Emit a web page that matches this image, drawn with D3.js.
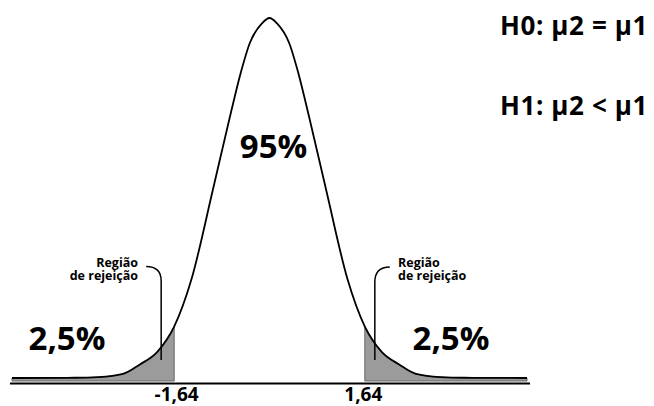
<!DOCTYPE html>
<html>
<head>
<meta charset="utf-8">
<script src="https://cdn.jsdelivr.net/npm/d3@7"></script>
<style>
  html, body { margin: 0; padding: 0; background: #ffffff; }
  svg { display: block; }
  text { font-family: "Open Sans", "Noto Sans", sans-serif; font-weight: 700; fill: #000; }
</style>
</head>
<body>
<svg id="chart" width="654" height="406"></svg>
<script>
// ---- data ----
const curveX       = [-4.43, -3.36, -2.94, -2.52, -2.23, -1.93, -1.64, -1.34, -0.98, -0.69, -0.50, -0.34, -0.13, 0,
                       0.13, 0.34, 0.50, 0.69, 0.98, 1.34, 1.64, 1.93, 2.23, 2.52, 2.94, 3.36, 4.43];
const curveDensity = [0.0000, 0.0003, 0.0010, 0.0045, 0.015, 0.029, 0.057, 0.110, 0.207, 0.287, 0.337, 0.371, 0.393, 0.399,
                      0.393, 0.371, 0.337, 0.287, 0.207, 0.110, 0.057, 0.029, 0.015, 0.0045, 0.0010, 0.0003, 0.0000];
const criticalValues = [-1.64, 1.64];
const tickLabels     = ["-1,64", "1,64"];
const tailLabels     = ["2,5%", "2,5%"];
const centerLabel    = "95%";
const regionLabel    = ["Região", "de rejeição"];
const hypotheses     = ["H0: μ2 = μ1", "H1: μ2 < μ1"];

const points = curveX.map((v, i) => ({ x: v, d: curveDensity[i] }));

const svg = d3.select("#chart");
const x = d3.scaleLinear().domain([d3.min(curveX), d3.max(curveX)]).range([12, 527]);
const y = d3.scaleLinear().domain([0, d3.max(curveDensity)]).range([378, 18]);

// shaded rejection tails
const area = d3.area()
  .x(p => x(p.x))
  .y0(y(0) + 3)
  .y1(p => y(p.d))
  .curve(d3.curveMonotoneX);

const leftTail  = points.filter(p => p.x <= criticalValues[0]);
const rightTail = points.filter(p => p.x >= criticalValues[1]);
[leftTail, rightTail].forEach(t => {
  svg.append("path")
    .datum(t)
    .attr("d", area)
    .attr("fill", "#9b9b9b")
    .attr("stroke", "#666")
    .attr("stroke-width", 1);
});

// the curve
const line = d3.line().x(p => x(p.x)).y(p => y(p.d)).curve(d3.curveMonotoneX);
svg.append("path")
  .datum(points)
  .attr("d", line)
  .attr("fill", "none")
  .attr("stroke", "#000")
  .attr("stroke-width", 1.8);

// baseline axis
const axis = d3.axisBottom(x)
  .tickValues(criticalValues)
  .tickFormat((d, i) => tickLabels[i])
  .tickSize(0)
  .tickPadding(4)
  .tickSizeOuter(0);
const gAxis = svg.append("g").attr("transform", "translate(0,383.5)").call(axis);
gAxis.select(".domain").attr("stroke", "#000").attr("stroke-width", 2.2)
  .attr("d", `M${x.range()[0] - 2},0H${x.range()[1] + 3}`);
gAxis.selectAll(".tick text")
  .attr("font-family", "'Open Sans', sans-serif")
  .attr("font-weight", 700)
  .attr("font-size", 19)
  .attr("fill", "#000")
  .attr("dx", (d, i) => i === 0 ? 2 : -2);

// center label
svg.append("text")
  .attr("x", x(0) + 4).attr("y", 158)
  .attr("text-anchor", "middle")
  .attr("font-size", 33)
  .text(centerLabel);

// tail percentages
svg.append("text").attr("x", 67).attr("y", 350).attr("text-anchor", "middle")
  .attr("font-size", 33).text(tailLabels[0]);
svg.append("text").attr("x", 451).attr("y", 350).attr("text-anchor", "middle")
  .attr("font-size", 33).text(tailLabels[1]);

// rejection-region annotations
const leftX = x(criticalValues[0]), rightX = x(criticalValues[1]);
function regionText(g, xPos, anchor) {
  const t = g.append("text").attr("x", xPos).attr("y", 267)
    .attr("text-anchor", anchor).attr("font-size", 12.5);
  regionLabel.forEach((s, i) => {
    t.append("tspan").attr("x", xPos).attr("dy", i === 0 ? 0 : 13).text(s);
  });
}
const gl = svg.append("g");
regionText(gl, 138, "end");
gl.append("path")
  .attr("d", `M${leftX - 28},266.5 Q${leftX - 13},266.5 ${leftX - 13},281 V360`)
  .attr("fill", "none").attr("stroke", "#000").attr("stroke-width", 1.5);

const gr = svg.append("g");
regionText(gr, 398, "start");
gr.append("path")
  .attr("d", `M${rightX + 25},267 Q${rightX + 10},267 ${rightX + 10},282 V360`)
  .attr("fill", "none").attr("stroke", "#000").attr("stroke-width", 1.5);

// hypotheses
svg.selectAll("text.hyp").data(hypotheses).enter().append("text")
  .attr("class", "hyp")
  .attr("x", 500)
  .attr("y", (d, i) => 35 + i * 80)
  .attr("font-size", 26)
  .attr("letter-spacing", 0.6)
  .text(d => d);
</script>
</body>
</html>
